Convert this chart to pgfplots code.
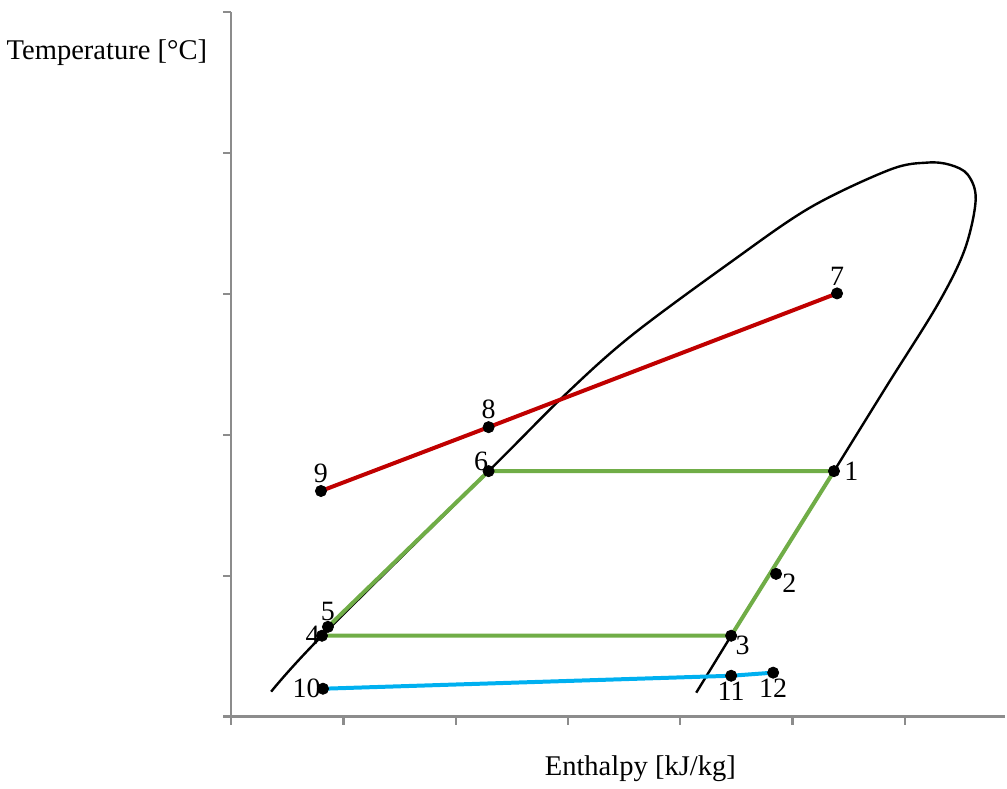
\documentclass[border=0pt]{standalone}
\usepackage{fontspec}
\setmainfont{Liberation Serif}
\usepackage{pgfplots}
\pgfplotsset{compat=1.18}

\definecolor{cycgreen}{HTML}{70AD47}
\definecolor{hotred}{HTML}{C00000}
\definecolor{coldblue}{HTML}{00B0F0}
\definecolor{axgray}{HTML}{8C8C8C}

\begin{document}
\begin{tikzpicture}
\begin{axis}[
    scale only axis,
    width=387.5pt, height=353pt,
    xmin=0, xmax=6.889,
    ymin=0, ymax=5,
    axis x line*=bottom,
    axis y line*=left,
    axis line style={axgray, line width=1.2pt, -},
    xtick={0,...,6}, ytick={0,...,5},
    xticklabels={}, yticklabels={},
    tick align=outside,
    major tick length=4pt,
    tick style={axgray, line width=1.2pt},
    clip=false,
]
% invisible frame for the page proportions
\path (rel axis cs:-0.297,-0.098) rectangle (rel axis cs:1.003,1.017);

% saturation dome
\addplot[black, line width=1.2pt, smooth, tension=0.55] coordinates {
(0.356,0.177) (0.809,0.574) (2.293,1.742) (2.960,2.273) (3.556,2.698)
(4.444,3.222) (5.156,3.612) (5.867,3.881) (6.196,3.931) (6.400,3.916)
(6.560,3.846) (6.631,3.669) (6.533,3.314) (6.293,2.925) (5.840,2.348)
(5.369,1.742)
};
\addplot[black, line width=1.2pt] coordinates {
(5.369,1.742) (4.453,0.574) (4.142,0.170)
};

% heat-pump cycle
\addplot[cycgreen, line width=2pt] coordinates {
(4.453,0.574) (0.809,0.574) (0.862,0.637) (2.293,1.742) (5.369,1.742) (4.453,0.574)
};
% hot stream
\addplot[hotred, line width=2pt] coordinates {
(0.800,1.601) (2.293,2.054) (5.396,3.003)
};
% cold stream
\addplot[coldblue, line width=2pt] coordinates {
(0.818,0.198) (4.453,0.290) (4.827,0.312)
};

% state points
\addplot[only marks, mark=*, mark size=2.8pt, black] coordinates {
(5.369,1.742) (4.853,1.013) (4.453,0.574) (0.809,0.574) (0.862,0.637)
(2.293,1.742) (5.396,3.003) (2.293,2.054) (0.800,1.601) (0.818,0.198)
(4.453,0.290) (4.827,0.312)
};

\begin{scope}[every node/.append style={font=\fontsize{14}{16}\selectfont}]
\node[anchor=west, inner sep=1pt] at (axis cs:5.369,1.742) {\hspace{4pt}1};
\node[anchor=north west, inner sep=0pt] at (axis cs:4.853,1.013) {\hspace{3pt}2};
\node[anchor=north west, inner sep=0pt] at (axis cs:4.453,0.574) {\hspace{2pt}3};
\node[anchor=east, inner sep=1pt] at (axis cs:0.809,0.574) {4\hspace{1pt}};
\node[anchor=south, inner sep=1pt] at (axis cs:0.862,0.637) {\raisebox{2pt}{5}};
\node[anchor=south east, inner sep=0pt] at (axis cs:2.293,1.742) {6\hspace{1pt}};
\node[anchor=south, inner sep=4pt] at (axis cs:5.396,3.003) {7};
\node[anchor=south, inner sep=4pt] at (axis cs:2.293,2.054) {8};
\node[anchor=south, inner sep=4pt] at (axis cs:0.800,1.601) {9};
\node[anchor=east, inner sep=1pt] at (axis cs:0.818,0.198) {10\hspace{1pt}};
\node[anchor=north, inner sep=3pt] at (axis cs:4.453,0.290) {11};
\node[anchor=north, inner sep=3pt] at (axis cs:4.827,0.312) {12};
\end{scope}

\node[anchor=east, font=\fontsize{14.3}{17}\selectfont] at (rel axis cs:-0.022,0.943) {Temperature [°C]};
\node[font=\fontsize{14.3}{17}\selectfont] at (rel axis cs:0.529,-0.074) {Enthalpy [kJ/kg]};
\end{axis}
\end{tikzpicture}
\end{document}
